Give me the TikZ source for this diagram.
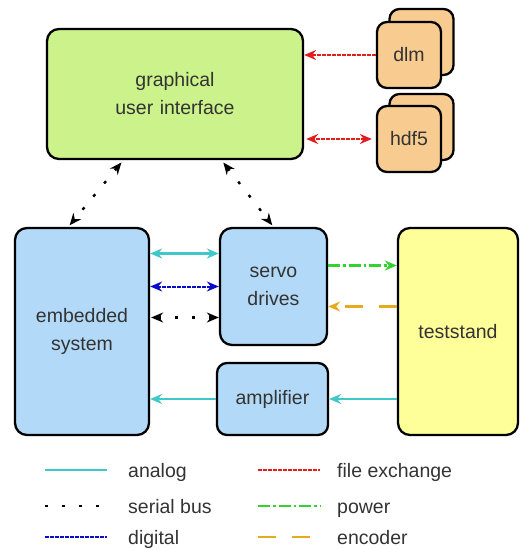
\documentclass[tikz,border=0pt]{standalone}
\usepackage{fontspec}
\setmainfont{Liberation Sans}
\usetikzlibrary{arrows.meta, calc, positioning}

\definecolor{guigreen}{RGB}{204,242,140}
\definecolor{boxblue}{RGB}{178,218,248}
\definecolor{standyellow}{RGB}{255,255,153}
\definecolor{filetan}{RGB}{248,204,144}
\definecolor{cyanline}{RGB}{64,200,200}
\definecolor{blueline}{RGB}{10,10,200}
\definecolor{redline}{RGB}{225,30,30}
\definecolor{greenline}{RGB}{50,210,50}
\definecolor{orangeline}{RGB}{230,170,30}

\begin{document}
\begin{tikzpicture}[x=1pt, y=-1pt,
    font=\fontsize{19.5}{28}\selectfont,
    block/.style={draw=black, line width=2.3pt, rounded corners=12pt, align=center, text=black!80, inner sep=0pt},
    filebox/.style={block, fill=filetan, rounded corners=10pt, minimum width=64pt, minimum height=66pt},
    analog/.style={cyanline, line width=2.2pt},
    serial/.style={black, line width=2.4pt, dash pattern=on 3pt off 14pt},
    digital/.style={blueline, line width=2pt, dash pattern=on 4pt off 1pt},
    fileex/.style={redline, line width=2pt, dash pattern=on 4pt off 1pt},
    power/.style={greenline, line width=2.2pt, dash pattern=on 12pt off 3pt on 2.5pt off 3pt},
    encoder/.style={orangeline, line width=2.2pt, dash pattern=on 18pt off 16pt},
    onehead/.style={-{Stealth[length=12pt, width=10pt, inset=4pt]}},
    twoheads/.style={{Stealth[length=12pt, width=10pt, inset=4pt]}-{Stealth[length=12pt, width=10pt, inset=4pt]}}
  ]
  % Invisible bounding box, same size as the original
  \path[use as bounding box] (0,0) rectangle (520,550);

  % Boxes
  \node[block, fill=guigreen, minimum width=256pt, minimum height=130pt] (gui) at (175,94) {graphical\\user\,\,interface};
  \node[filebox] (dlmback) at (421.5,42) {};
  \node[filebox] (dlm) at (409,55) {dlm};
  \node[filebox] (hdfback) at (421.5,127) {};
  \node[filebox] (hdf) at (409,139) {hdf5};

  \node[block, fill=boxblue, minimum width=134pt, minimum height=207pt] (emb) at (82,331.5) {embedded\\system};
  \node[block, fill=boxblue, minimum width=107pt, minimum height=117pt] (servo) at (273.5,286.5) {servo\\drives};
  \node[block, fill=boxblue, rounded corners=10pt, minimum width=111pt, minimum height=72pt] (amp) at (272.5,399) {amplifier};
  \node[block, fill=standyellow, minimum width=120pt, minimum height=207pt] (test) at (458,331.5) {teststand};

  % File exchange
  \draw[fileex, onehead] (dlm.west) -- (dlm.west -| gui.east);
  \draw[fileex, twoheads, shorten <=4pt, shorten >=2pt] (hdf.west) -- (hdf.west -| gui.east);

  % Serial bus to the gui
  \draw[serial, twoheads, shorten <=3pt, shorten >=2pt] ($(gui.south west)!0.3!(gui.south east)$) -- ($(emb.north west)!0.4!(emb.north east)$);
  \draw[serial, twoheads, shorten <=3pt, shorten >=2pt] ($(gui.south west)!0.68!(gui.south east)$) -- (servo.north);

  % Embedded system <-> servo drives
  \coordinate (sa) at ([yshift=33pt]servo.west);
  \coordinate (sb) at ([yshift=-31pt]servo.west);
  \draw[analog, twoheads] (sa -| emb.east) -- (sa);
  \draw[digital, twoheads] (servo.west -| emb.east) -- (servo.west);
  \draw[serial, twoheads, shorten <=1pt] (sb -| emb.east) -- (sb);

  % Servo drives <-> teststand
  \coordinate (sp) at ([yshift=21pt]servo.east);
  \coordinate (se) at ([yshift=-20pt]servo.east);
  \draw[power, onehead] (sp) -- (sp -| test.west);
  \draw[encoder, onehead] (se -| test.west) -- (se);

  % Teststand -> amplifier -> embedded system
  \draw[analog, onehead] (amp.east -| test.west) -- (amp.east);
  \draw[analog, onehead] (amp.west) -- (amp.west -| emb.east);

  % Legend
  \foreach \y/\sty/\txt in {470/analog/analog, 506/serial/serial bus, 537/digital/digital} {
    \coordinate (a\sty) at (45,\y);
    \draw[\sty] (a\sty) -- ++(62,0);
    \node[anchor=base west, inner sep=0pt, text=black!80] (l\sty) at (128,\y+7) {\txt};
  }
  \foreach \y/\sty/\txt in {470/fileex/file exchange, 506/power/power, 537/encoder/encoder} {
    \coordinate (a\sty) at (258,\y);
    \draw[\sty] (a\sty) -- ++(62,0);
    \node[anchor=base west, inner sep=0pt, text=black!80] (l\sty) at (337,\y+7) {\txt};
  }
\end{tikzpicture}
\end{document}
